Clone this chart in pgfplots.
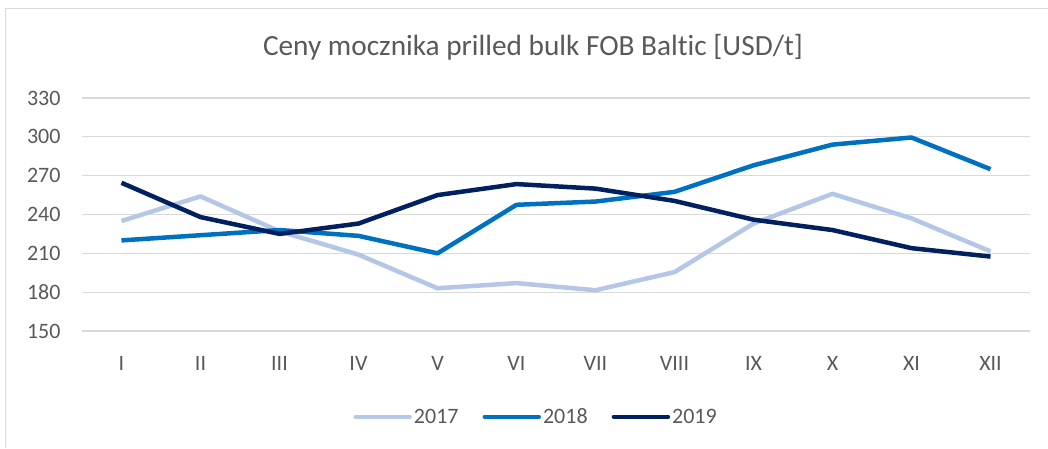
\documentclass[border=0pt]{standalone}
\usepackage{fontspec}
\setmainfont[RawFeature={-liga;-clig;-calt;-dlig}]{Carlito}
\usepackage{pgfplots}
\pgfplotsset{compat=1.18}

\definecolor{c2017}{HTML}{B4C7E7}
\definecolor{c2018}{HTML}{0070C0}
\definecolor{c2019}{HTML}{002060}
\definecolor{gridc}{HTML}{D9D9D9}
\definecolor{txt}{HTML}{595959}

\begin{document}
\begin{tikzpicture}
% page frame: 1048 x 448 px, axis box starts at (82,331) px
\path[use as bounding box] (-82pt,-117pt) rectangle (966pt,331pt);
\draw[gridc, line width=1pt] (-76pt,-117pt) -- (-76pt,322pt) -- (966pt,322pt);
\begin{axis}[
    scale only axis,
    width=948pt, height=233pt,
    xmin=-0.5, xmax=11.5,
    ymin=150, ymax=330,
    xtick={0,...,11},
    xticklabels={I,II,III,IV,V,VI,VII,VIII,IX,X,XI,XII},
    ytick={150,180,...,330},
    ymajorgrids,
    grid style={gridc, line width=1.3pt},
    axis line style={draw=none},
    major tick length=0pt,
    tick label style={font=\fontsize{22}{26}\selectfont, text=txt},
    /pgf/number format/assume math mode=true,
    xticklabel style={yshift=-22pt},
    yticklabel style={xshift=-18pt},
    legend columns=3,
    legend style={at={(0.479,-0.368)}, anchor=center, draw=none, fill=none,
        font=\fontsize{22}{26}\selectfont, text=txt,
        /tikz/every even column/.append style={column sep=22pt}},
    legend image code/.code={\draw[#1, line cap=round] (0pt,0pt) -- (54pt,0pt);},
    every axis plot/.append style={line width=4.5pt, line join=round},
]
\addplot[c2017] coordinates {(0,235) (1,254) (2,227) (3,209) (4,183) (5,187) (6,181.5) (7,195.5) (8,233) (9,256) (10,237) (11,211.5)};
\addlegendentry{2017}
\addplot[c2018] coordinates {(0,220) (1,224) (2,228) (3,223.5) (4,210) (5,247.5) (6,250) (7,257.5) (8,278) (9,294) (10,299.5) (11,275)};
\addlegendentry{2018}
\addplot[c2019] coordinates {(0,264.5) (1,238) (2,225) (3,233) (4,255) (5,263.5) (6,260) (7,250.5) (8,236) (9,228) (10,214) (11,207.5)};
\addlegendentry{2019}
\end{axis}
\node[text=txt, font=\fontsize{29.3}{33}\selectfont] at (451pt,284pt) {Ceny mocznika prilled bulk FOB Baltic [USD/t]};
\end{tikzpicture}
\end{document}
